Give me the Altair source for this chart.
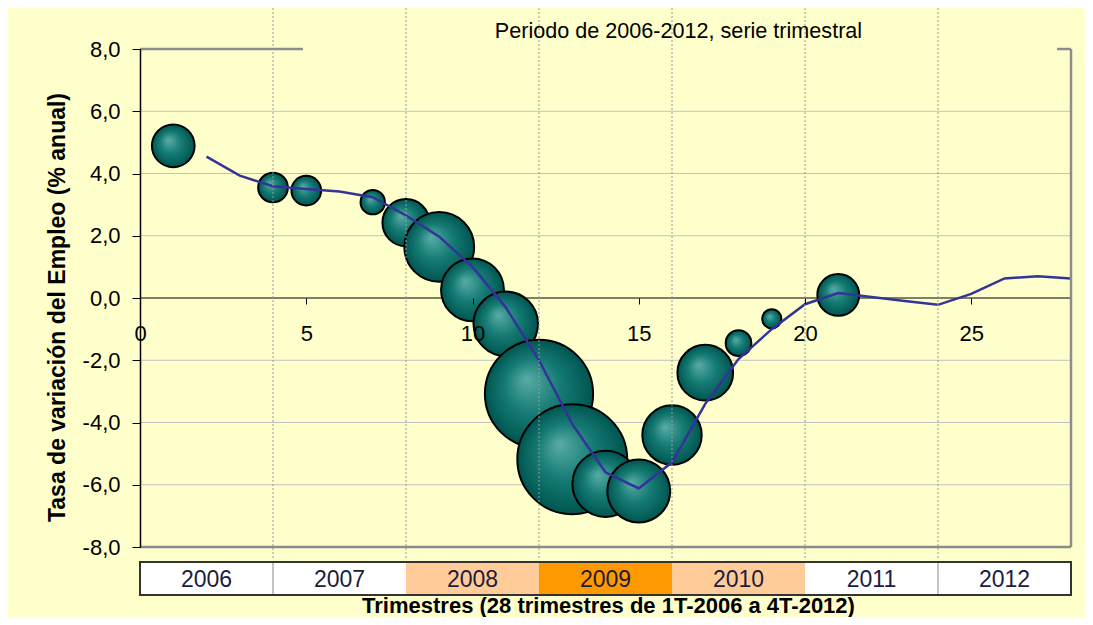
import altair as alt
import pandas as pd

FONT = "Liberation Sans"

# ---- data ----
bubble_q = [1, 4, 5, 7, 8, 9, 10, 11, 12, 13, 14, 15, 16, 17, 18, 19, 21]
bubble_rate = [4.89, 3.55, 3.45, 3.08, 2.42, 1.64, 0.26, -0.83, -3.08, -5.18,
               -5.97, -6.2, -4.4, -2.4, -1.45, -0.67, 0.1]
bubble_weight = [600, 290, 290, 196, 730, 1600, 1300, 1370, 3850, 3970,
                 1440, 1300, 1160, 1020, 216, 121, 576]

line_q = list(range(2, 29))
line_rate = [4.54, 3.93, 3.59, 3.5, 3.42, 3.24, 2.65, 1.97, 1.0, -0.3,
             -2.0, -4.05, -5.6, -6.12, -5.28, -3.4, -1.96, -1.0, -0.2, 0.16,
             0.03, -0.1, -0.22, 0.13, 0.63, 0.70, 0.63]

years = ["2006", "2007", "2008", "2009", "2010", "2011", "2012"]
year_start = [0, 4, 8, 12, 16, 20, 24]
year_end = [4, 8, 12, 16, 20, 24, 28]
year_fill = ["#FFFFFF", "#FFFFFF", "#FFCC99", "#FF9900", "#FFCC99", "#FFFFFF", "#FFFFFF"]
plain_separators = [4, 24]
year_edges = [4, 8, 12, 16, 20, 24]

y_ticks = [-8, -6, -4, -2, 0, 2, 4, 6, 8]
x_ticks = [0, 5, 10, 15, 20, 25]
grid_rates = [-6, -4, -2, 2, 4, 6]

# frame pieces (top edge partly hidden by the title box in the original)
top_from = [0, 27.58]
top_to = [4.9, 28]

TITLE = "Periodo de 2006-2012, serie trimestral"
X_TITLE = "Trimestres (28 trimestres de 1T-2006 a 4T-2012)"
Y_TITLE = "Tasa de variación del Empleo (% anual)"

# ---- tables ----
bubbles = pd.DataFrame({"q": bubble_q, "rate": bubble_rate, "w": bubble_weight})
line = pd.DataFrame({"q": line_q, "rate": line_rate})
bands = pd.DataFrame({"year": years, "start": year_start, "end": year_end, "fill": year_fill})
bands["mid"] = (bands["start"] + bands["end"]) / 2
band_box = pd.DataFrame({"start": [min(year_start)], "end": [max(year_end)]})
seps = pd.DataFrame({"q": plain_separators})
edges = pd.DataFrame({"q": year_edges})
grid = pd.DataFrame({"rate": grid_rates})
top_edge = pd.DataFrame({"a": top_from, "b": top_to, "rate": [max(y_ticks)] * len(top_from)})
bottom_edge = pd.DataFrame({"a": [0], "b": [28], "rate": [min(y_ticks)]})
right_edge = pd.DataFrame({"q": [28], "lo": [min(y_ticks)], "hi": [max(y_ticks)]})
zero_line = pd.DataFrame({"a": [0], "b": [28], "rate": [0]})
title_df = pd.DataFrame({"t": [TITLE]})

xs = alt.Scale(domain=[0, 28], nice=False, zero=False)
ys = alt.Scale(domain=[-8, 8], nice=False, zero=False)

x_axis = alt.Axis(
    values=x_ticks, orient="bottom", offset=-249, domain=False, ticks=True, tickSize=6,
    tickColor="black", tickWidth=1, labelFont=FONT, labelFontSize=22,
    labelColor="black", labelPadding=19, labelFlush=False, labelOverlap=False,
    grid=False, format="d", title=X_TITLE, titleFont=FONT, titleFontSize=22,
    titleFontWeight="bold", titleColor="black", titleY=314.5, titleX=468,
    titleBaseline="alphabetic", zindex=1,
)
y_axis = alt.Axis(
    values=y_ticks, domain=True, domainColor="black", domainWidth=1.5,
    ticks=True, tickSize=8, tickColor="black", tickWidth=1,
    labelFont=FONT, labelFontSize=22, labelColor="black", labelPadding=12,
    labelExpr="(datum.value < 0 ? '-' : '') + replace(format(abs(datum.value), '.1f'), '.', ',')",
    grid=False, title=Y_TITLE, titleFont=FONT, titleFontSize=23,
    titleFontWeight="bold", titleColor="black", titleAngle=270,
    titleX=-83, titleY=258, titleAlign="center", titleBaseline="middle", zindex=1,
)

# helper layers leave the axis unspecified so the explicit axes above win the merge
band_rects = alt.Chart(bands).mark_rect(strokeWidth=0).encode(
    x=alt.X("start:Q", scale=xs), x2="end:Q",
    y=alt.value(513), y2=alt.value(546),
    fill=alt.Fill("fill:N", scale=None),
)
band_seps = alt.Chart(seps).mark_rule(color="#b0b0b0", strokeWidth=1.5).encode(
    x=alt.X("q:Q", scale=xs), y=alt.value(513), y2=alt.value(546)
)
band_border = alt.Chart(band_box).mark_rect(fill=None, stroke="#333333", strokeWidth=2).encode(
    x=alt.X("start:Q", scale=xs), x2="end:Q",
    y=alt.value(513), y2=alt.value(546),
)
band_text = alt.Chart(bands).mark_text(
    font=FONT, fontSize=23, color="#1c1c3c", baseline="middle", align="center"
).encode(
    x=alt.X("mid:Q", scale=xs), y=alt.value(531), text="year:N"
)

grid_rules = alt.Chart(grid).mark_rule(color="#c0c0c0", strokeWidth=1).encode(
    y=alt.Y("rate:Q", scale=ys), x=alt.value(0), x2=alt.value(931)
)
zero_rule = alt.Chart(zero_line).mark_rule(color="black", strokeWidth=1).encode(
    x=alt.X("a:Q", scale=xs), x2="b:Q",
    y=alt.Y("rate:Q", scale=ys),
)

bubble_fill = {
    "gradient": "radial",
    "x1": 0.38, "y1": 0.36, "r1": 0,
    "x2": 0.5, "y2": 0.5, "r2": 0.5,
    "stops": [
        {"offset": 0, "color": "#5aaca6"},
        {"offset": 0.5, "color": "#167c75"},
        {"offset": 1, "color": "#005550"},
    ],
}
bubble_layer = alt.Chart(bubbles).mark_circle(
    fill=bubble_fill, stroke="black", strokeWidth=2, opacity=1
).encode(
    x=alt.X("q:Q", scale=xs, axis=x_axis),
    y=alt.Y("rate:Q", scale=ys, axis=y_axis),
    size=alt.Size("w:Q", scale=alt.Scale(domain=[0, 3970], range=[0, 12076]), legend=None),
)
line_layer = alt.Chart(line).mark_line(color="#333399", strokeWidth=2.5).encode(
    x=alt.X("q:Q", scale=xs),
    y=alt.Y("rate:Q", scale=ys),
)
dotted = alt.Chart(edges).mark_rule(color="#9a9a9a", strokeWidth=1, strokeDash=[2, 2]).encode(
    x=alt.X("q:Q", scale=xs), y=alt.value(-41), y2=alt.value(509)
)

frame_top = alt.Chart(top_edge).mark_rule(color="#8c8c8c", strokeWidth=2.5).encode(
    x=alt.X("a:Q", scale=xs), x2="b:Q",
    y=alt.Y("rate:Q", scale=ys),
)
frame_bottom = alt.Chart(bottom_edge).mark_rule(color="#8c8c8c", strokeWidth=2.5).encode(
    x=alt.X("a:Q", scale=xs), x2="b:Q",
    y=alt.Y("rate:Q", scale=ys),
)
frame_right = alt.Chart(right_edge).mark_rule(color="#8c8c8c", strokeWidth=2.5).encode(
    x=alt.X("q:Q", scale=xs),
    y=alt.Y("lo:Q", scale=ys), y2="hi:Q",
)

title_text = alt.Chart(title_df).mark_text(
    font=FONT, fontSize=21.6, color="black", align="center", baseline="alphabetic"
).encode(text="t:N", x=alt.value(538.5), y=alt.value(-11))

chart = alt.layer(
    band_rects, band_seps, band_border, band_text,
    grid_rules, zero_rule,
    bubble_layer, line_layer, dotted,
    frame_top, frame_bottom, frame_right, title_text,
).properties(
    width=931, height=498,
    autosize=alt.AutoSizeParams(type="none"),
    padding={"left": 132, "top": 41, "right": 14, "bottom": 70},
).configure(background="#FFFFCC").configure_view(stroke=None)

chart.save("out.html", embed_options={"renderer": "svg", "actions": False})
